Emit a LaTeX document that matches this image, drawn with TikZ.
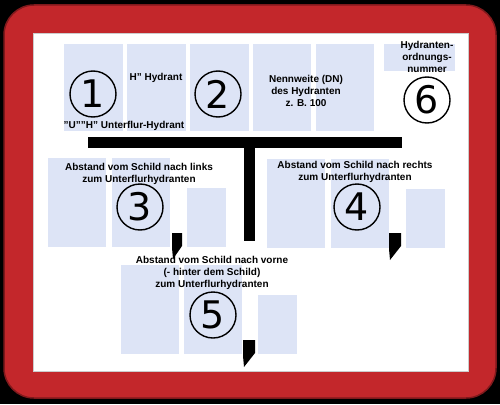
\documentclass[tikz,border=0pt]{standalone}
\usepackage{fontspec}
\setmainfont{Liberation Sans}
\newfontfamily\digitfont{DejaVu Sans}
\usetikzlibrary{positioning}
\definecolor{signred}{HTML}{C3272B}
\definecolor{panelblue}{HTML}{DDE4F6}

\begin{document}
\begin{tikzpicture}[x=1pt, y=-1pt,
            panel/.style={rectangle, fill=panelblue, inner sep=0pt, anchor=north west},
            toppanel/.style={panel, minimum width=58.5pt, minimum height=87pt},
            bigpanel/.style={panel, minimum width=58pt, minimum height=89pt},
            smallpanel/.style={panel, minimum width=39pt, minimum height=59pt},
            num/.style={circle, draw, line width=1.4pt, minimum size=46pt, inner sep=0pt,
                        font=\digitfont\fontsize{38}{38}\selectfont},
            lbl/.style={font=\bfseries\fontsize{10}{12}\selectfont, align=center, inner sep=0pt},
            node distance=4pt,
        ]
            \useasboundingbox (0,0) rectangle (500,404);

            % Sign plate
            \fill[black] (0,0) rectangle (500,404);
            \draw[fill=signred, draw=signred!65!black, line width=1.5pt, rounded corners=30pt]
                (4,5) rectangle (496,398);
            \draw[fill=white, draw=black!20, line width=0.6pt] (33,33) rectangle (468,371);

            % Top row
            \node[toppanel]                  (p1) at (64,44) {};
            \node[toppanel, right=of p1]     (p2) {};
            \node[toppanel, right=of p2]     (p3) {};
            \node[toppanel, right=of p3]     (p4) {};
            \node[toppanel, right=of p4]     (p5) {};
            \node[panel, minimum width=71pt, minimum height=27pt] (p6) at (384,44) {};

            % Distance groups
            \node[bigpanel]                  (l1) at (48,158) {};
            \node[bigpanel, right=5pt of l1] (l2) {};
            \node[smallpanel, right=17pt of l2.south east, anchor=south west] (l3) {};

            \node[bigpanel]                  (r1) at (267,159) {};
            \node[bigpanel, right=5pt of r1] (r2) {};
            \node[smallpanel, right=17pt of r2.south east, anchor=south west] (r3) {};

            \node[bigpanel]                  (f1) at (121,265) {};
            \node[bigpanel, right=4pt of f1] (f2) {};
            \node[smallpanel, right=16pt of f2.south east, anchor=south west] (f3) {};

            % T bar
            \fill[black] (88,137) rectangle (402,148);
            \fill[black] (244,148) rectangle (255,241);

            % Markers
            \fill[black] (172,233) -- (182,233) -- (182,246) -- (173,259) -- (172,248) -- cycle;
            \fill[black] (389,233) -- (401,233) -- (401,246) -- (390,260) -- (389,249) -- cycle;
            \fill[black] (243,340) -- (255,340) -- (255,353) -- (244,367) -- (243,356) -- cycle;

            % Numbers
            \node[num] (n1) at (93,94)   {1};
            \node[num] (n2) at (218,94)  {2};
            \node[num] (n3) at (140,207) {3};
            \node[num] (n4) at (357,207) {4};
            \node[num] (n5) at (213,315) {5};
            \node[num] (n6) at (427,100) {6};

            % Labels
            \node[lbl] (kind)   at (124,126) {"U""H" Unterflur-Hydrant};
            \node[lbl] (hyd)    at (156,78)  {H" Hydrant};
            \node[lbl] (dn)     at (306,91)  {Nennweite (DN)\\des Hydranten\\z. B. 100};
            \node[lbl] (order)  at (427,57)  {Hydranten-\\ordnungs-\\nummer};
            \node[lbl] (left)   at (139,174) {Abstand vom Schild nach links\\zum Unterflurhydranten};
            \node[lbl] (right)  at (355,172) {Abstand vom Schild nach rechts\\zum Unterflurhydranten};
            \node[lbl] (front)  at (212,273) {Abstand vom Schild nach vorne\\(- hinter dem Schild)\\zum Unterflurhydranten};
        \end{tikzpicture}
\end{document}
